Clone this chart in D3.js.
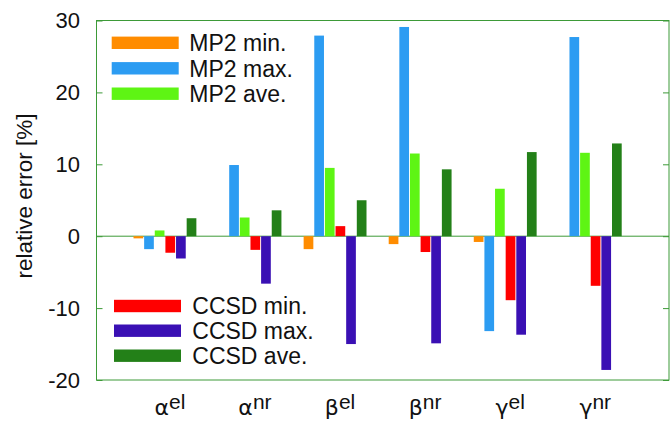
<!DOCTYPE html>
<html>
<head>
<meta charset="utf-8">
<script src="https://cdn.jsdelivr.net/npm/d3@7"></script>
<style>
  html, body { margin: 0; padding: 0; background: #fff; }
  text { font-family: "Liberation Sans", Arial, sans-serif; fill: #111; }
</style>
</head>
<body>
<svg id="chart" width="670" height="422"></svg>
<script>
// Polarizability / hyperpolarizability components (greek symbol + superscript)
const catBase = ["α", "α", "β", "β", "γ", "γ"];
const catSup = ["el", "nr", "el", "nr", "el", "nr"];

// Relative errors [%] per component
const mp2Min  = [-0.3, 0.0, -1.8, -1.1, -0.8, 0.0];
const mp2Max  = [-1.8, 9.9, 27.9, 29.1, -13.2, 27.7];
const mp2Ave  = [0.8, 2.6, 9.5, 11.5, 6.6, 11.6];
const ccsdMin = [-2.3, -1.9, 1.4, -2.2, -8.9, -6.9];
const ccsdMax = [-3.1, -6.6, -15.0, -14.9, -13.7, -18.6];
const ccsdAve = [2.5, 3.6, 5.0, 9.3, 11.7, 12.9];

const seriesNames = ["MP2 min.", "MP2 max.", "MP2 ave.", "CCSD min.", "CCSD max.", "CCSD ave."];
const seriesValues = [mp2Min, mp2Max, mp2Ave, ccsdMin, ccsdMax, ccsdAve];
const seriesColors = ["#ff8c00", "#2c9cf2", "#5ef514", "#ff0000", "#3a10b4", "#238018"];

const yTicks = [-20, -10, 0, 10, 20, 30];

const svg = d3.select("#chart");
const frame = { left: 96.5, right: 669, top: 20.5, bottom: 380 };
const axisColor = "#3d9a38";

const x = d3.scaleLinear().domain([-0.81, 5.92]).range([frame.left, frame.right]);
const y = d3.scaleLinear().domain([-20, 30]).range([frame.bottom, frame.top]);

const slot = 1 / 8;          // 6 bars + 2 gap slots per cluster
const barW = 0.114;          // bar width in x units

// zero line
svg.append("line")
  .attr("x1", frame.left).attr("x2", frame.right)
  .attr("y1", y(0)).attr("y2", y(0))
  .attr("stroke", axisColor).attr("stroke-width", 1);

// bars
seriesValues.forEach((vals, k) => {
  svg.append("g").selectAll("rect")
    .data(vals)
    .join("rect")
    .attr("x", (v, i) => x(i + (k - 3) * slot))
    .attr("width", x(barW) - x(0))
    .attr("y", v => y(Math.max(0, v)))
    .attr("height", v => Math.abs(y(v) - y(0)))
    .attr("fill", seriesColors[k]);
});

// frame
svg.append("rect")
  .attr("x", frame.left).attr("y", frame.top)
  .attr("width", frame.right - frame.left).attr("height", frame.bottom - frame.top)
  .attr("fill", "none").attr("stroke", axisColor).attr("stroke-width", 1);

// y axis: inward ticks on both sides, labels on the left
const yAxisL = d3.axisLeft(y).tickValues(yTicks).tickSize(-6).tickFormat(d => String(d));
const gL = svg.append("g").attr("transform", `translate(${frame.left},0)`).call(yAxisL);
gL.select(".domain").remove();
gL.selectAll(".tick line").attr("stroke", axisColor);
gL.selectAll(".tick text")
  .attr("x", 80 - frame.left)
  .style("font-family", "'Liberation Sans', Arial, sans-serif")
  .style("font-size", "22px").attr("fill", "#111");

const yAxisR = d3.axisRight(y).tickValues(yTicks).tickSize(-6).tickFormat("");
const gR = svg.append("g").attr("transform", `translate(${frame.right},0)`).call(yAxisR);
gR.select(".domain").remove();
gR.selectAll(".tick line").attr("stroke", axisColor);

// y label
svg.append("text")
  .attr("transform", "translate(32,196) rotate(-90)")
  .attr("text-anchor", "middle")
  .style("font-size", "22.5px")
  .text("relative error [%]");

// category labels
catBase.forEach((b, i) => {
  const t = svg.append("text")
    .attr("x", x(i) + 4.5).attr("y", 415)
    .attr("text-anchor", "middle");
  t.append("tspan").style("font-family", "'DejaVu Sans', sans-serif").style("font-size", "22px").text(b);
  t.append("tspan").style("font-size", "21px").attr("dy", -6).text(catSup[i]);
});

// legends
const legendRows = [
  { names: seriesNames.slice(0, 3), colors: seriesColors.slice(0, 3), rx: 111.7, tx: 189.3, cy: [42.8, 68.3, 93.7] },
  { names: seriesNames.slice(3), colors: seriesColors.slice(3), rx: 114, tx: 192.3, cy: [306, 330.7, 355.7] }
];
legendRows.forEach(L => {
  L.names.forEach((n, j) => {
    svg.append("rect")
      .attr("x", L.rx).attr("y", L.cy[j] - 6.2)
      .attr("width", 67).attr("height", 12.4)
      .attr("fill", L.colors[j]);
    svg.append("text")
      .attr("x", L.tx).attr("y", L.cy[j] + 8.2)
      .style("font-size", "23px")
      .text(n);
  });
});
</script>
</body>
</html>
